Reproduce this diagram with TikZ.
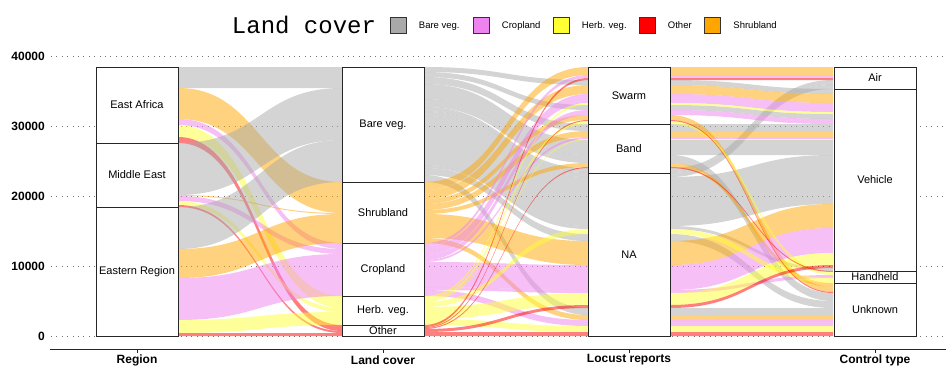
\documentclass[tikz,border=0pt]{standalone}
\usepackage{fontspec}
\setmainfont{Liberation Sans}
\newfontfamily\titlefont{Liberation Mono}
\usetikzlibrary{positioning}

\definecolor{cbare}{HTML}{A9A9A9}
\definecolor{ccrop}{HTML}{EE82EE}
\definecolor{cherb}{HTML}{FFFF33}
\definecolor{cother}{HTML}{FF0000}
\definecolor{cshrub}{HTML}{FFA500}

\tikzset{
  flowfill/.style={fill opacity=.5},
  stratum/.style={draw=black!85, line width=.8pt, fill=white, minimum width=82pt,
    inner sep=0pt, font=\fontsize{11}{13}\selectfont},
  axlab/.style={font=\bfseries\fontsize{12}{14}\selectfont},
  ylab/.style={anchor=east, inner sep=0pt, font=\bfseries\fontsize{12}{14}\selectfont},
  gridline/.style={black!55, line width=.8pt, dash pattern=on .8pt off 4.6pt},
  legbox/.style={draw=black!80, line width=.5pt, minimum size=16pt, inner sep=0pt},
  legtext/.style={inner sep=0pt, text depth=0pt, font=\fontsize{9.5}{11}\selectfont}
}

% one alluvial band between two axes
\newcommand{\alluv}[7]{%
  \pgfmathsetmacro{\xmid}{(#1+#2)/2}%
  \fill[flowfill, fill=#7] (#1,#3) .. controls (\xmid,#3) and (\xmid,#5) .. (#2,#5)
    -- (#2,#6) .. controls (\xmid,#6) and (\xmid,#4) .. (#1,#4) -- cycle;}

\begin{document}
\begin{tikzpicture}[x=1pt, y=-1pt]
  \useasboundingbox (0,0) rectangle (946,368);

  % grid and y labels
  \foreach \v/\y in {0/336,10000/266,20000/196,30000/126,40000/56}{
    \draw[gridline] (51,\y) -- (944,\y);
    \node[ylab] (y\v) at (45,\y) {\v};
  }

  % Region -> Land cover
  \foreach \a/\b/\c/\d/\col in {67/88/67/88/cbare, 88/119/182/213/cshrub, 119/125/243/249/ccrop,
      125/137/296/308/cherb, 137/143/325/331/cother,
      143/195/88/140/cbare, 195/196/213/214/cshrub, 196/201/249/254/ccrop,
      201/205/308/312/cherb, 205/207/331/333/cother,
      207/249/140/182/cbare, 249/278/214/243/cshrub, 278/320/254/296/ccrop,
      320/333/312/325/cherb, 333/336/333/336/cother}
    \alluv{178}{342}{\a}{\b}{\c}{\d}{\col};

  % Land cover -> Locust reports
  \foreach \a/\b/\c/\d/\col in {67/72/80/85/cbare, 72/77/105/110/cbare, 77/84/124/131/cbare,
      84/99/140/155/cbare, 99/107/155/163/cbare, 107/111/168/172/cbare, 111/112/172/173/cbare,
      112/116/173/177/cbare, 116/165/177/226/cbare, 165/168/226/229/cbare,
      168/175/234/241/cbare, 175/182/308/315/cbare,
      182/190/67/75/cshrub, 190/199/85/94/cshrub, 199/204/115/120/cshrub, 204/210/131/137/cshrub,
      210/214/163/167/cshrub, 214/238/241/265/cshrub, 238/243/315/320/cshrub,
      243/246/75/78/ccrop, 246/255/94/103/ccrop, 255/260/110/115/ccrop, 260/262/137/139/ccrop,
      262/287/265/290/ccrop, 287/290/290/293/ccrop, 290/296/320/326/ccrop,
      296/298/103/105/cherb, 298/301/121/124/cherb, 301/302/139/140/cherb,
      302/307/229/234/cherb, 307/319/293/305/cherb, 319/325/326/332/cherb,
      325/327/78/80/cother, 327/328/120/121/cother, 328/329/167/168/cother,
      329/332/305/308/cother, 332/336/332/336/cother}
    \alluv{424}{588}{\a}{\b}{\c}{\d}{\col};

  % Locust reports -> Control type
  \foreach \a/\b/\c/\d/\col in {80/85/89/94/cbare, 105/110/114/119/cbare, 124/131/124/131/cbare,
      140/155/140/155/cbare, 155/163/293/301/cbare, 168/172/80/84/cbare, 172/173/84/85/cbare,
      173/177/85/89/cbare, 177/226/155/204/cbare, 226/229/268/271/cbare,
      234/241/301/308/cbare, 308/315/308/315/cbare,
      67/75/67/75/cshrub, 85/94/94/103/cshrub, 115/120/287/292/cshrub, 131/137/131/137/cshrub,
      163/167/283/287/cshrub, 241/265/204/228/cshrub, 315/320/315/320/cshrub,
      75/78/75/78/ccrop, 94/103/103/112/ccrop, 110/115/119/124/ccrop, 137/139/137/139/ccrop,
      265/290/228/253/ccrop, 290/293/275/278/ccrop, 320/326/320/326/ccrop,
      103/105/112/114/cherb, 121/124/272/275/cherb, 139/140/139/140/cherb,
      229/234/278/283/cherb, 293/305/253/265/cherb, 326/332/326/332/cherb,
      78/80/78/80/cother, 120/121/292/293/cother, 167/168/271/272/cother,
      305/308/265/268/cother, 332/336/332/336/cother}
    \alluv{670}{833}{\a}{\b}{\c}{\d}{\col};

  % strata
  \node[stratum, minimum height=76pt] (eastafrica) at (137,105) {East Africa};
  \node[stratum, minimum height=64pt] (middleeast) at (137,175) {Middle East};
  \node[stratum, minimum height=129pt] (eastern) at (137,271.5) {Eastern Region};

  \node[stratum, minimum height=115pt] (bareveg) at (383,124.5) {Bare veg.};
  \node[stratum, minimum height=61pt] (shrubland) at (383,212.5) {Shrubland};
  \node[stratum, minimum height=53pt] (cropland) at (383,269.5) {Cropland};
  \node[stratum, minimum height=29pt] (herbveg) at (383,310.5) {Herb. veg.};
  \node[stratum, minimum height=11pt] (other) at (383,330.5) {Other};

  \node[stratum, minimum height=57pt] (swarm) at (629,95.5) {Swarm};
  \node[stratum, minimum height=49pt] (band) at (629,148.5) {Band};
  \node[stratum, minimum height=163pt] (na) at (629,254.5) {NA};

  \node[stratum, minimum height=22pt] (air) at (875,78) {Air};
  \node[stratum, minimum height=182pt] (vehicle) at (875,180) {Vehicle};
  \node[stratum, minimum height=12pt] (handheld) at (875,277) {Handheld};
  \node[stratum, minimum height=53pt] (unknown) at (875,309.5) {Unknown};

  % x axis
  \draw[line width=.8pt, black!85] (50,349) -- (946,349);
  \foreach \x in {137,383,629,875}
    \draw[line width=.8pt, black!85] (\x,349) -- (\x,352.5);
  \node[axlab] (axregion) at (137,360) {Region};
  \node[axlab] (axcover) at (383,360) {Land cover};
  \node[axlab] (axreports) at (629,360) {Locust reports};
  \node[axlab] (axcontrol) at (875,360) {Control type};

  % legend
  \node[inner sep=0pt, font=\titlefont\fontsize{24}{26}\selectfont] (legtitle) at (304,25) {Land cover};
  \node[legbox, fill=cbare] (kbare) at (398,25) {};
  \node[legtext, right=12.5pt of kbare] (tbare) {Bare veg.};
  \node[legbox, fill=ccrop] (kcrop) at (481,25) {};
  \node[legtext, right=12.5pt of kcrop] (tcrop) {Cropland};
  \node[legbox, fill=cherb] (kherb) at (561,25) {};
  \node[legtext, right=12.5pt of kherb] (therb) {Herb. veg.};
  \node[legbox, fill=cother] (kother) at (647,25) {};
  \node[legtext, right=12.5pt of kother] (tother) {Other};
  \node[legbox, fill=cshrub] (kshrub) at (712.5,25) {};
  \node[legtext, right=12.5pt of kshrub] (tshrub) {Shrubland};
\end{tikzpicture}
\end{document}
